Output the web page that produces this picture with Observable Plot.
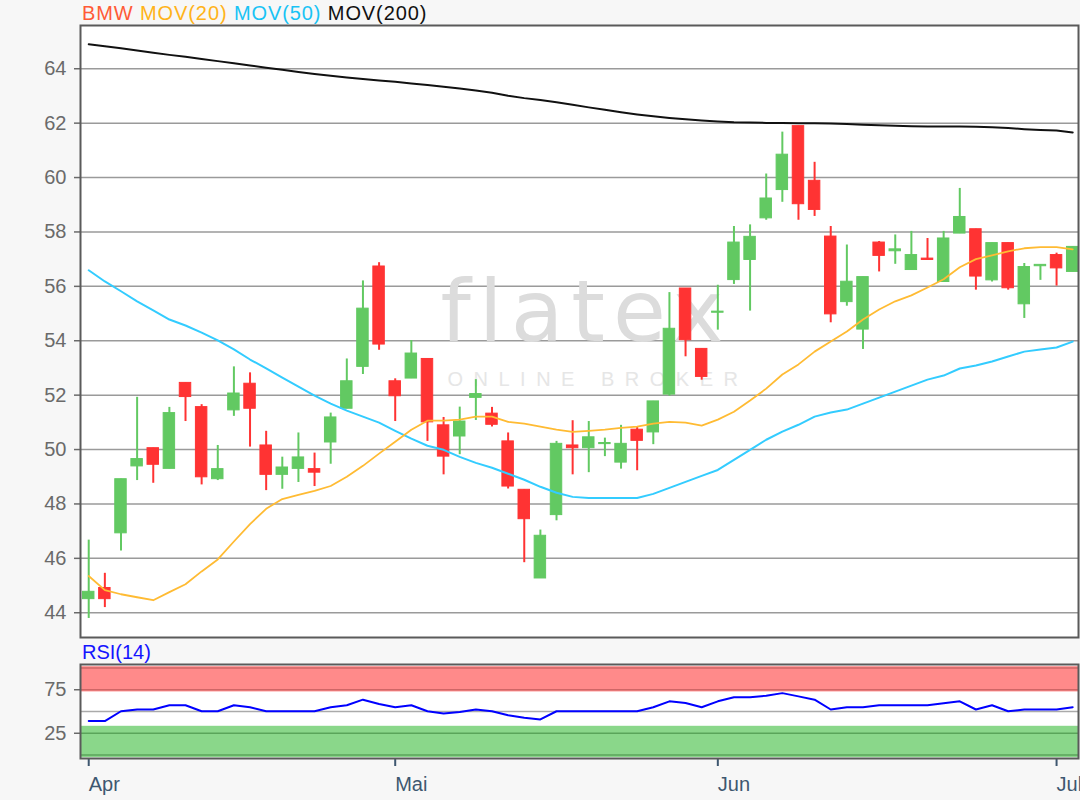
<!DOCTYPE html>
<html><head><meta charset="utf-8">
<script src="https://cdn.jsdelivr.net/npm/d3@7"></script>
<script src="https://cdn.jsdelivr.net/npm/@observablehq/plot@0.6"></script>
<style>
body{margin:0;background:#f7f7f7;font-family:"Liberation Sans",Arial,sans-serif;}
#wrap{position:relative;width:1080px;height:800px;overflow:hidden;background:#f7f7f7;}
#main,#rsi{position:absolute;left:0;}
#main{top:0}
#rsi{top:640px}
#legend{position:absolute;left:82px;top:3px;font-size:20px;line-height:20px;letter-spacing:0.9px;white-space:pre;}
#rsilabel{position:absolute;left:82px;top:642px;font-size:20px;line-height:20px;color:#1414ff;}
</style></head>
<body><div id="wrap"><div id="main"></div><div id="rsi"></div>
<div id="legend"></div><div id="rsilabel"></div></div>
<script>
// ---- data (trading-day index 0..61, Apr - early Jul) ----
const open  = [44.50,44.91,46.92,49.38,50.05,49.29,52.45,51.56,48.91,51.44,52.42,50.15,49.07,49.29,49.28,50.26,51.50,53.04,56.73,52.51,52.61,53.33,50.89,50.48,51.90,51.32,50.30,48.52,45.26,47.59,50.15,50.05,50.20,49.52,50.73,50.63,52.02,55.92,53.70,55.03,56.23,56.97,58.50,59.54,61.89,59.88,57.83,55.42,54.41,57.61,57.29,56.60,57.02,56.16,57.94,58.10,56.22,57.59,55.34,56.74,57.15,56.53];
const high  = [46.67,45.45,48.91,51.92,50.05,51.55,52.45,51.65,50.15,53.04,52.82,50.67,49.72,50.61,49.87,51.34,53.33,56.20,56.87,52.60,54.01,53.33,51.18,51.56,52.57,51.55,50.61,48.52,47.04,50.30,51.06,51.03,50.42,50.89,50.81,51.77,55.77,55.92,53.70,56.04,58.20,58.26,60.13,61.67,61.89,60.56,58.20,57.52,56.34,57.65,57.89,58.02,57.76,58.02,59.60,58.10,57.59,57.59,56.84,56.79,57.22,57.45];
const low   = [43.79,44.19,46.27,48.86,48.76,49.29,51.03,48.70,48.86,51.22,50.09,48.49,48.54,48.79,48.64,49.46,51.50,52.76,53.65,51.03,52.61,50.30,49.07,49.81,51.07,50.83,48.55,45.84,45.26,47.38,49.07,49.15,49.74,49.28,49.22,50.18,51.96,53.41,52.55,54.39,56.07,55.09,58.43,59.09,58.43,58.57,54.66,55.27,53.68,56.53,56.81,56.60,56.97,56.16,57.94,55.86,56.16,55.86,54.82,56.22,56.01,56.53];
const close = [44.77,44.50,48.91,49.65,49.44,51.34,51.93,48.98,49.28,52.06,51.50,49.07,49.34,49.71,49.15,51.18,52.51,55.18,53.86,51.96,53.53,51.00,49.74,51.03,52.04,50.91,48.64,47.44,46.83,50.21,50.05,50.45,50.24,50.21,50.32,51.77,54.44,54.02,52.67,55.07,57.61,57.82,59.23,60.84,59.02,58.81,54.97,56.17,56.34,57.12,57.36,57.15,56.97,57.76,58.55,56.36,57.59,55.93,56.71,56.79,56.66,57.45];
const mov20 = [45.35,44.83,44.68,44.57,44.46,44.76,45.05,45.52,45.96,46.62,47.26,47.82,48.18,48.33,48.48,48.66,49.00,49.40,49.85,50.29,50.73,51.06,51.06,51.10,51.21,51.21,51.02,50.95,50.84,50.73,50.65,50.69,50.73,50.80,50.84,50.95,51.02,50.99,50.88,51.10,51.39,51.80,52.24,52.76,53.13,53.60,53.97,54.34,54.78,55.15,55.45,55.67,55.96,56.26,56.70,57.00,57.14,57.29,57.40,57.44,57.44,57.36];
const mov50 = [56.59,56.18,55.82,55.45,55.12,54.78,54.56,54.30,54.01,53.68,53.31,52.98,52.64,52.31,51.98,51.69,51.43,51.21,50.99,50.69,50.40,50.14,49.99,49.73,49.51,49.33,49.11,48.89,48.63,48.41,48.26,48.22,48.22,48.22,48.22,48.37,48.59,48.81,49.03,49.25,49.62,49.99,50.36,50.66,50.91,51.21,51.36,51.47,51.69,51.91,52.13,52.35,52.57,52.72,52.98,53.09,53.24,53.42,53.60,53.68,53.75,53.97];
const mov200 = [64.90,64.83,64.75,64.67,64.59,64.51,64.44,64.36,64.28,64.20,64.12,64.04,63.96,63.88,63.81,63.74,63.68,63.62,63.57,63.52,63.46,63.40,63.34,63.27,63.20,63.12,63.01,62.92,62.85,62.77,62.68,62.58,62.49,62.40,62.32,62.25,62.19,62.14,62.10,62.06,62.03,62.02,62.01,62.01,62.00,62.00,61.99,61.97,61.94,61.92,61.90,61.89,61.88,61.88,61.88,61.87,61.85,61.82,61.78,61.75,61.73,61.66];
const rsi   = [39.0,39.0,50.3,52.3,52.3,57.2,57.2,50.3,50.3,57.2,54.9,50.3,50.3,50.3,50.3,54.9,57.2,63.6,58.6,54.9,57.2,50.3,47.7,49.5,52.3,50.3,45.8,42.7,40.9,50.3,50.3,50.3,50.3,50.3,50.3,54.9,61.7,59.8,54.9,61.7,66.3,66.3,68.2,71.1,67.4,63.6,52.3,54.9,54.9,57.2,57.2,57.2,57.2,59.4,61.7,52.3,57.2,50.3,52.3,52.3,52.3,54.9];
const yTicks = [44,46,48,50,52,54,56,58,60,62,64];
const rsiTicks = [25,75];
const monthTickIdx = [0,19,39,60];
const monthLabels = ["Apr","Mai","Jun","Jul"];
const legendNames = ["BMW","MOV(20)","MOV(50)","MOV(200)"];
const legendColors = ["#ff5a36","#ffb31a","#19c3f5","#111111"];
const bandLo = [72.5,-3];
const bandHi = [101.5,33];
const bandColors = ["#ff8a8a","#8ad78a"];

const GREEN = "#62c962", RED = "#ff3333";
const FONT = "Liberation Sans, Arial, sans-serif";
const XDOM = [-0.51, 61.36];

const candles = open.map((o,i)=>({i, o, h: high[i], l: low[i], c: close[i]}));
const idx = candles.map(d=>d.i);
const col = d => d.c >= d.o ? GREEN : RED;

const main = Plot.plot({
  width:1080, height:640, marginTop:25, marginBottom:3, marginLeft:80, marginRight:2,
  style:{background:"transparent", fontFamily:FONT, fontSize:"20px", color:"#666"},
  x:{domain:XDOM, axis:null},
  y:{domain:[43.09,65.59]},
  marks:[
    Plot.frame({fill:"white", stroke:null}),
    Plot.ruleY(yTicks,{stroke:"#9a9a9a", strokeWidth:1.5}),
    Plot.text(["flatex"],{frameAnchor:"top-left", textAnchor:"start", lineAnchor:"top", dx:360, dy:254, fontSize:86, fontFamily:"DejaVu Sans", fill:"#dcdcdc"}),
    Plot.text(["ONLINE BROKER"],{frameAnchor:"top-left", textAnchor:"start", lineAnchor:"top", dx:367, dy:346, fontSize:20, fill:"#e6e6e6"}),
    Plot.axisY(yTicks,{tickSize:6, tickPadding:8, fontSize:20, color:"#6a6a6a", strokeWidth:1.5}),
    Plot.ruleX(candles,{x:"i", y1:"l", y2:"h", stroke:col, strokeWidth:2}),
    Plot.rect(candles,{x1:d=>d.i-0.355, x2:d=>d.i+0.355, y1:"o", y2:"c", fill:col, stroke:col, strokeWidth:1}),
    Plot.line(idx,{x:d=>d, y:d=>mov200[d], stroke:"#111", strokeWidth:2}),
    Plot.line(idx,{x:d=>d, y:d=>mov50[d], stroke:"#33ccff", strokeWidth:2}),
    Plot.line(idx,{x:d=>d, y:d=>mov20[d], stroke:"#ffbb33", strokeWidth:1.8}),
    Plot.frame({stroke:"#5a5a5a", strokeWidth:2})
  ]
});
d3.select(main).selectAll("text").filter(function(){return this.textContent==="ONLINE BROKER";}).attr("letter-spacing","10.5");
d3.select(main).selectAll("text").filter(function(){return this.textContent==="flatex";}).attr("letter-spacing","8");
document.getElementById("main").appendChild(main);

const labelOf = new Map(monthTickIdx.map((t,k)=>[t, monthLabels[k]]));
const bands = bandLo.map((lo,k)=>({lo, hi: bandHi[k], c: bandColors[k]}));
const rsiPlot = Plot.plot({
  width:1080, height:160, marginTop:24, marginBottom:42, marginLeft:80, marginRight:2,
  style:{background:"transparent", fontFamily:FONT, fontSize:"20px", color:"#666"},
  x:{domain:XDOM},
  y:{domain:[-4,104]},
  marks:[
    Plot.frame({fill:"white", stroke:null}),
    Plot.rect(bands,{y1:"lo", y2:"hi", fill:"c"}),
    Plot.ruleY([100,75],{stroke:"#cf6666", strokeWidth:1.5}),
    Plot.ruleY([25,0],{stroke:"#5aa55a", strokeWidth:1.5}),
    Plot.ruleY([50],{stroke:"#aaaaaa", strokeWidth:1.5}),
    Plot.axisY(rsiTicks,{tickSize:6, tickPadding:8, fontSize:20, color:"#6a6a6a", strokeWidth:1.5}),
    Plot.axisX(monthTickIdx,{tickSize:8, tickPadding:10, fontSize:20, color:"#3e5770", strokeWidth:2, textAnchor:"start", tickFormat:d=>labelOf.get(d)}),
    Plot.line(idx,{x:d=>d, y:d=>rsi[d], stroke:"#0000ff", strokeWidth:2}),
    Plot.frame({stroke:"#5a5a5a", strokeWidth:2})
  ]
});
document.getElementById("rsi").appendChild(rsiPlot);

const leg = document.getElementById("legend");
legendNames.forEach((n,k)=>{
  const s = document.createElement("span");
  s.textContent = n + (k < legendNames.length-1 ? " " : "");
  s.style.color = legendColors[k];
  leg.appendChild(s);
});
document.getElementById("rsilabel").textContent = "RSI(14)";
</script></body></html>
